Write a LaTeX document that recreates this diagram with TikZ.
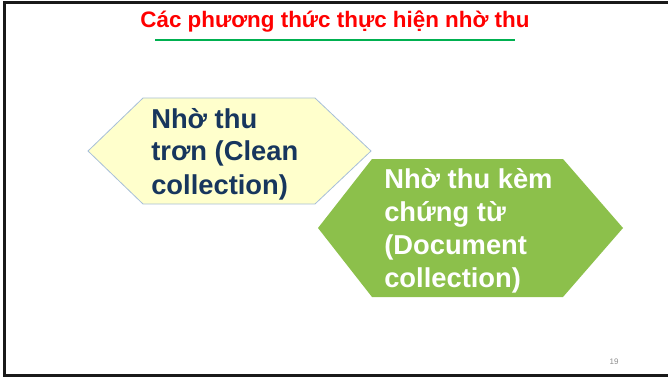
\documentclass[tikz,border=0pt]{standalone}
\usepackage{fontspec}
\setmainfont{Liberation Sans}
\definecolor{chudo}{HTML}{FF0000}
\definecolor{gachluc}{HTML}{00B050}
\definecolor{nenvang}{HTML}{FFFFCC}
\definecolor{vienxanh}{HTML}{A7BFD9}
\definecolor{nenluc}{HTML}{8CC04B}
\definecolor{chuxanh}{HTML}{17365D}

\begin{document}
\begin{tikzpicture}[
        x=0.75pt, y=-0.75pt,
        khung/.style={draw=black!90, line width=2.25pt},
        tieude/.style={font=\bfseries\fontsize{16.8}{20}\selectfont, text=chudo, inner sep=0pt, anchor=base},
        hexvang/.style={fill=nenvang, draw=vienxanh, line width=0.6pt},
        hexluc/.style={fill=nenluc, draw=none},
        chuhex/.style={font=\bfseries\fontsize{20.5}{24.75}\selectfont, align=left, inner sep=0pt, anchor=base west},
        sotrang/.style={font=\fontsize{6}{7}\selectfont, text=black!45, inner sep=0pt}
        ]
        \useasboundingbox (0,0) rectangle (668,378);

        % khung slide
        \draw[khung] (668,3) -- (4.5,3) -- (4.5,375.5) -- (668,375.5);

        \node[tieude] (tieu) at (335,28) {Các phương thức thực hiện nhờ thu};
        \draw[gachluc, line width=1.5pt] (155,40) -- (515,40);

        % anchor base = baseline of the last line
        \draw[hexvang] (88,151) -- (143,98) -- (315,98) -- (371,151) -- (315,204) -- (143,204) -- cycle;
        \node[chuhex, text=chuxanh] (tron) at (151,194) {Nhờ thu\\trơn (Clean\\collection)};

        \draw[hexluc] (318,228) -- (372,159) -- (563,159) -- (623,228) -- (563,297) -- (372,297) -- cycle;
        \node[chuhex, text=white] (kem) at (384,287) {Nhờ thu kèm\\chứng từ\\(Document\\collection)};

        \node[sotrang] (so) at (614,362) {19};
    \end{tikzpicture}
\end{document}
